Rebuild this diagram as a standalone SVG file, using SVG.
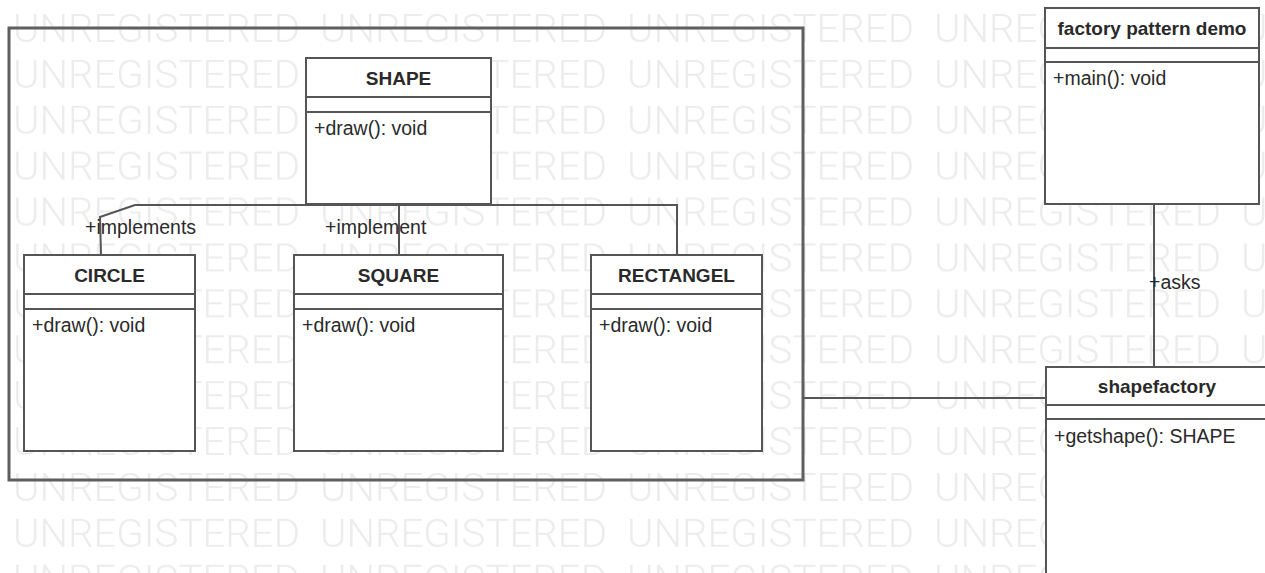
<svg xmlns="http://www.w3.org/2000/svg" width="1265" height="573" viewBox="0 0 1265 573">
  <style>
    .box { fill: #ffffff; stroke: #555555; stroke-width: 2; }
    .sep { stroke: #555555; stroke-width: 2; fill: none; }
    .conn { stroke: #555555; stroke-width: 2; fill: none; }
    .frame { fill: none; stroke: #5f5f5f; stroke-width: 3; }
    .hdr { font-family: "Liberation Sans", Arial, sans-serif; font-size: 19px; font-weight: bold; fill: #2a2a2a; text-anchor: middle; }
    .mem { font-family: "Liberation Sans", Arial, sans-serif; font-size: 19.5px; fill: #2a2a2a; }
    .lbl { font-family: "Liberation Sans", Arial, sans-serif; font-size: 19.5px; fill: #2a2a2a; }
    .wm { font-family: Roboto, "Liberation Sans", sans-serif; font-size: 39px; font-weight: 300; fill: #ececec; }
  </style>
  <defs>
    <pattern id="wmPat" patternUnits="userSpaceOnUse" x="13" y="7" width="307" height="45.9">
      <text class="wm" x="0" y="35" textLength="287" lengthAdjust="spacingAndGlyphs">UNREGISTERED</text>
    </pattern>
  </defs>
  <rect x="0" y="0" width="1265" height="573" fill="#ffffff"/>
  <rect id="watermark" x="0" y="0" width="1265" height="573" fill="url(#wmPat)"/>

  <rect id="frame" class="frame" x="9" y="28" width="794" height="452"/>

  <g id="connectors">
    <path class="conn" d="M135,205 H677 V255"/>
    <path class="conn" d="M399,205 V255"/>
    <path class="conn" d="M135,205 L100,217 L101,255"/>
    <path class="conn" d="M1154,204 V367"/>
    <path class="conn" d="M803,398 H1055"/>
    <text class="lbl" x="85" y="234">+implements</text>
    <text class="lbl" x="325" y="234">+implement</text>
    <text class="lbl" x="1149" y="289">+asks</text>
  </g>

  <g id="shape">
    <rect class="box" x="306" y="58" width="185" height="146"/>
    <line class="sep" x1="306" y1="97" x2="491" y2="97"/>
    <line class="sep" x1="306" y1="112" x2="491" y2="112"/>
    <text class="hdr" x="398.5" y="85">SHAPE</text>
    <text class="mem" x="314" y="135">+draw(): void</text>
  </g>

  <g id="circle">
    <rect class="box" x="24" y="255" width="171" height="196"/>
    <line class="sep" x1="24" y1="294" x2="195" y2="294"/>
    <line class="sep" x1="24" y1="309" x2="195" y2="309"/>
    <text class="hdr" x="109.5" y="282">CIRCLE</text>
    <text class="mem" x="32" y="332">+draw(): void</text>
  </g>

  <g id="square">
    <rect class="box" x="294" y="255" width="209" height="196"/>
    <line class="sep" x1="294" y1="294" x2="503" y2="294"/>
    <line class="sep" x1="294" y1="309" x2="503" y2="309"/>
    <text class="hdr" x="398.5" y="282">SQUARE</text>
    <text class="mem" x="302" y="332">+draw(): void</text>
  </g>

  <g id="rectangel">
    <rect class="box" x="591" y="255" width="171" height="196"/>
    <line class="sep" x1="591" y1="294" x2="762" y2="294"/>
    <line class="sep" x1="591" y1="309" x2="762" y2="309"/>
    <text class="hdr" x="676.5" y="282">RECTANGEL</text>
    <text class="mem" x="599" y="332">+draw(): void</text>
  </g>

  <g id="factory-pattern-demo">
    <rect class="box" x="1045" y="8" width="214" height="196"/>
    <line class="sep" x1="1045" y1="48" x2="1259" y2="48"/>
    <line class="sep" x1="1045" y1="62" x2="1259" y2="62"/>
    <text class="hdr" x="1152" y="35">factory pattern demo</text>
    <text class="mem" x="1053" y="85">+main(): void</text>
  </g>

  <g id="shapefactory">
    <rect class="box" x="1046" y="367" width="222" height="220"/>
    <line class="sep" x1="1046" y1="405" x2="1268" y2="405"/>
    <line class="sep" x1="1046" y1="419" x2="1268" y2="419"/>
    <text class="hdr" x="1157" y="393">shapefactory</text>
    <text class="mem" x="1054" y="443">+getshape(): SHAPE</text>
  </g>
</svg>
